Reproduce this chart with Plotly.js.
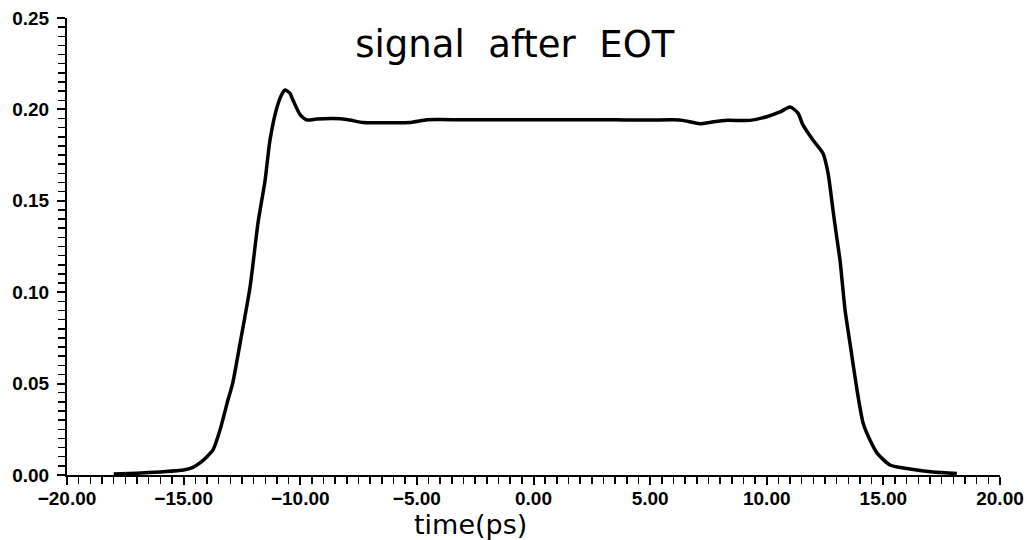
<!DOCTYPE html>
<html>
<head>
<meta charset="utf-8">
<script src="https://cdn.plot.ly/plotly-3.0.1.min.js"></script>
<style>html,body{margin:0;padding:0;background:#fff;}#chart{width:1027px;height:540px;}</style>
</head>
<body>
<div id="chart"></div>
<script>
// time in ps
var time = [-18.0, -17.0, -16.0, -15.0, -14.6, -14.3, -14.0, -13.74, -13.44, -13.1, -12.9,
  -12.58, -12.15, -11.81, -11.51, -11.3, -11.0, -10.8, -10.65, -10.45, -10.31, -10.0,
  -9.71, -9.3, -8.6, -8.0, -7.3, -6.5, -5.3, -4.57, -4.0, -3.0, -2.0, -1.0, 0.0, 1.0,
  2.0, 3.0, 4.0, 5.0, 6.0, 6.4, 7.14, 7.6, 8.3, 9.28, 10.0, 10.57, 11.0, 11.34, 11.55,
  11.98, 12.41, 12.63, 12.84, 13.0, 13.14, 13.36, 13.57, 13.87, 14.13, 14.43, 14.73,
  15.28, 16.14, 17.13, 18.15];
// signal amplitude
var signal = [0.0005, 0.001, 0.0017, 0.0027, 0.0042, 0.0066, 0.010, 0.0137, 0.0246, 0.041, 0.050,
  0.072, 0.103, 0.138, 0.161, 0.183, 0.201, 0.208, 0.2106, 0.209, 0.205, 0.197,
  0.1942, 0.1947, 0.195, 0.1945, 0.1928, 0.1927, 0.1928, 0.1944, 0.1945, 0.1943, 0.1944, 0.1943, 0.1944, 0.1943,
  0.1943, 0.1944, 0.1942, 0.1942, 0.1943, 0.194, 0.1922, 0.193, 0.194, 0.194, 0.196, 0.1986, 0.2013, 0.198, 0.1915,
  0.1833, 0.176, 0.165, 0.145, 0.130, 0.1176, 0.090, 0.072, 0.0465, 0.0284, 0.019, 0.012,
  0.0055, 0.0033, 0.0016, 0.0008];

var trace = {
  x: time, y: signal, type: 'scatter', mode: 'lines',
  line: {color: '#000', width: 3.5, shape: 'spline', smoothing: 0.6}, hoverinfo: 'skip'
};

var tickFont = {family: 'Liberation Sans, Arial, sans-serif', size: 19, color: '#000', weight: 'bold'};

var layout = {
  width: 1027, height: 540,
  margin: {l: 67, r: 27, t: 18, b: 65},
  paper_bgcolor: '#fff', plot_bgcolor: '#fff',
  showlegend: false,
  title: {
    text: 'signal&nbsp; after&nbsp; EOT',
    font: {family: 'DejaVu Sans, sans-serif', size: 37, color: '#000'},
    xref: 'paper', yref: 'paper', x: 0.48, y: 0.943, xanchor: 'center', yanchor: 'middle'
  },
  xaxis: {
    range: [-20, 20], showgrid: false, zeroline: false,
    showline: true, linecolor: '#000', linewidth: 2,
    ticks: 'outside', tickcolor: '#000', ticklen: 8, tickwidth: 2,
    dtick: 5, tick0: 0, tickformat: '.2f', tickfont: tickFont,
    minor: {dtick: 0.5, ticks: 'outside', ticklen: 7, tickwidth: 1.5, tickcolor: '#000', showgrid: false},
    ticklabelstandoff: -3
  },
  yaxis: {
    range: [0, 0.25], showgrid: false, zeroline: false,
    showline: true, linecolor: '#000', linewidth: 2,
    ticks: 'outside', tickcolor: '#000', ticklen: 8, tickwidth: 2,
    dtick: 0.05, tick0: 0, tickformat: '.2f', tickfont: tickFont,
    minor: {dtick: 0.005, ticks: 'outside', ticklen: 7, tickwidth: 1.5, tickcolor: '#000', showgrid: false},
    ticklabelstandoff: 4
  },
  annotations: [{
    text: 'time(ps)', xref: 'paper', yref: 'paper', x: 0.432, y: -0.108,
    xanchor: 'center', yanchor: 'middle', showarrow: false,
    font: {family: 'DejaVu Sans, sans-serif', size: 27, color: '#000'}
  }]
};

Plotly.newPlot('chart', [trace], layout, {staticPlot: true, displayModeBar: false});
</script>
</body>
</html>
